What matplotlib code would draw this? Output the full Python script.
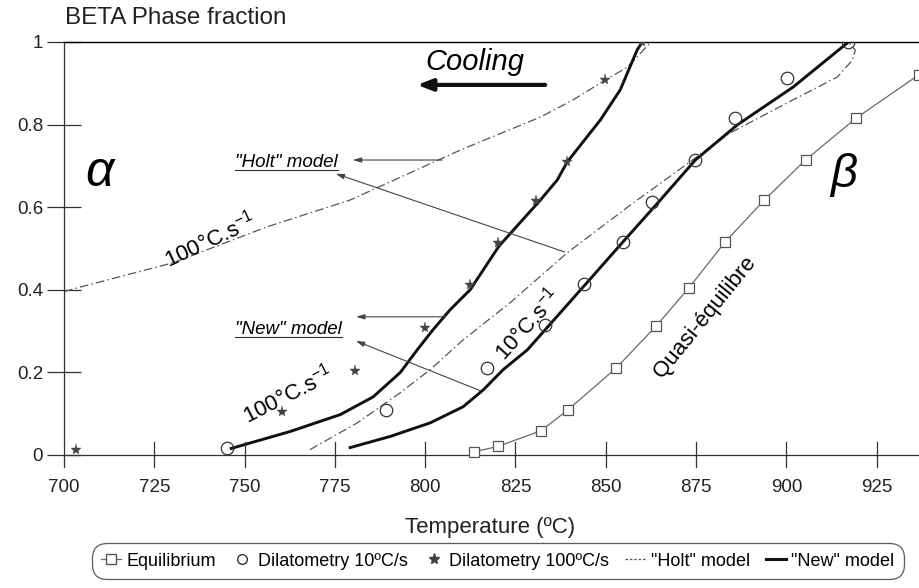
import matplotlib
matplotlib.use("Agg")
import matplotlib.pyplot as plt
from matplotlib.lines import Line2D

plt.rcParams['font.family'] = ['Liberation Sans', 'DejaVu Sans']
plt.rcParams['mathtext.fontset'] = 'custom'
plt.rcParams['mathtext.rm'] = 'Liberation Sans'
plt.rcParams['mathtext.it'] = 'Liberation Sans:italic'

# ---------------- data ----------------
eq_T = [813.6, 820.2, 832.1, 839.6, 852.9, 864.0, 873.1, 883.1, 893.9, 905.3, 919.4, 936.6]
eq_v = [0.007, 0.020, 0.058, 0.109, 0.210, 0.312, 0.405, 0.516, 0.617, 0.714, 0.816, 0.920]

dil10_T = [745.2, 789.2, 817.2, 833.2, 844.0, 854.8, 862.9, 874.8, 885.9, 900.3, 917.2]
dil10_v = [0.015, 0.107, 0.211, 0.315, 0.414, 0.516, 0.613, 0.714, 0.816, 0.913, 1.000]

dil100_T = [703.3, 760.4, 780.6, 800.0, 812.5, 820.2, 830.7, 839.3, 849.9, 860.1]
dil100_v = [0.012, 0.104, 0.203, 0.308, 0.412, 0.513, 0.615, 0.709, 0.908, 1.000]

new100_T = [746.3, 762.6, 776.5, 785.6, 793.1, 797.8, 802.2, 806.9, 812.5, 820.4,
            831.9, 836.6, 839.3, 848.5, 854.0, 858.7, 860.1]
new100_v = [0.015, 0.056, 0.097, 0.140, 0.199, 0.254, 0.303, 0.351, 0.400, 0.505,
            0.617, 0.666, 0.709, 0.811, 0.884, 0.981, 1.000]

holt100_T = [700.0, 703.6, 730.2, 756.2, 779.2, 809.7, 831.9, 841.0, 849.9, 856.0, 862.3]
holt100_v = [0.395, 0.404, 0.465, 0.552, 0.617, 0.738, 0.818, 0.860, 0.908, 0.939, 0.998]

new10_T = [779.2, 790.3, 801.4, 810.5, 816.1, 821.6, 828.3, 843.8, 854.8, 865.1, 874.8,
           886.4, 901.9, 917.2]
new10_v = [0.017, 0.044, 0.077, 0.116, 0.157, 0.206, 0.254, 0.407, 0.516, 0.617, 0.714,
           0.799, 0.891, 1.000]

holt10_T = [768.1, 781.2, 793.1, 801.4, 810.5, 823.5, 839.3, 857.6, 875.3, 884.5, 901.9,
            914.1, 918.3, 919.1, 917.2]
holt10_v = [0.012, 0.077, 0.150, 0.206, 0.278, 0.368, 0.489, 0.610, 0.722, 0.780, 0.860,
            0.915, 0.956, 0.980, 1.000]

x_ticks = [700, 725, 750, 775, 800, 825, 850, 875, 900, 925]
y_ticks = [0, 0.2, 0.4, 0.6, 0.8, 1]
y_ticklabels = ['0', '0.2', '0.4', '0.6', '0.8', '1']
legend_labels = ['Equilibrium', 'Dilatometry 10\u00baC/s', 'Dilatometry 100\u00baC/s',
                 '"Holt" model', '"New" model']

# ---------------- figure ----------------
fig = plt.figure(figsize=(9.2, 5.88), dpi=100)
ax = fig.add_axes([64/920, 1 - 467/588, 1 - 64/920, (467 - 42)/588])
ax.set_xlim(700, 937)
ax.set_ylim(-0.03, 1.0)

holt_style = dict(color='#555555', lw=0.9, dashes=(7, 2.5, 1.2, 2.5))
ax.plot(eq_T, eq_v, '-', color='#6a6a6a', lw=0.9, marker='s', ms=7.5,
        mfc='white', mec='#555555', mew=0.9, zorder=3)
ax.plot(holt100_T, holt100_v, **holt_style)
ax.plot(holt10_T, holt10_v, **holt_style)
ax.plot(new100_T, new100_v, '-', color='#111111', lw=2.1)
ax.plot(new10_T, new10_v, '-', color='#111111', lw=2.1)
ax.plot(dil10_T, dil10_v, 'o', ms=9, mfc='none', mec='#333333', mew=0.9, zorder=4)
ax.plot(dil100_T, dil100_v, '*', ms=8, mfc='#444444', mec='#444444', mew=0.3, zorder=4)

# spines / ticks
for s in ['right', 'bottom']:
    ax.spines[s].set_visible(False)
ax.spines['top'].set_linewidth(1.0)
ax.spines['left'].set_linewidth(0.9)
ax.spines['left'].set_color('#333333')
ax.axhline(0, color='#333333', lw=0.9, zorder=1)
ax.set_xticks(x_ticks)
ax.set_yticks(y_ticks)
ax.set_yticklabels(y_ticklabels)
ax.tick_params(axis='y', direction='inout', length=24, width=0.9, color='#333333',
               labelsize=13.5, pad=3, colors='#222222')
ax.tick_params(axis='x', bottom=False, labelbottom=False)
for t in x_ticks[1:]:
    ax.plot([t, t], [-0.03, 0.03], color='#333333', lw=0.9, clip_on=False)
for t in x_ticks:
    ax.text(t, -0.08, str(t), ha='center', va='center', fontsize=13.5, color='#222222')

ax.text(818, -0.177, 'Temperature (\u00baC)', ha='center', va='center', fontsize=16,
        color='#222222')

fig.text(65/920, 1 - 18/588, 'BETA Phase fraction', ha='left', va='center',
         fontsize=17.5, color='#222222')

# annotations
ax.text(813.9, 0.952, 'Cooling', style='italic', fontsize=21, ha='center', va='center')
ax.annotate('', xy=(797.0, 0.896), xytext=(834.0, 0.896),
            arrowprops=dict(arrowstyle='-|>,head_length=0.9,head_width=0.35',
                            lw=3, color='#111111'))

arrow_kw = dict(arrowstyle='-|>,head_length=0.5,head_width=0.15', lw=0.8, color='#444444')
t_holt = ax.text(747.4, 0.707, '"Holt" model', style='italic', fontsize=13.5,
                 ha='left', va='center')
ax.annotate('', xy=(779.2, 0.714), xytext=(805.5, 0.714), arrowprops=arrow_kw)
ax.annotate('', xy=(774.5, 0.683), xytext=(839.3, 0.489), arrowprops=arrow_kw)

t_new = ax.text(747.4, 0.303, '"New" model', style='italic', fontsize=13.5,
                ha='left', va='center')
ax.annotate('', xy=(780.1, 0.334), xytext=(806.4, 0.334), arrowprops=arrow_kw)
ax.annotate('', xy=(780.1, 0.278), xytext=(815.8, 0.153), arrowprops=arrow_kw)

ax.text(710.2, 0.683, r'$\alpha$', fontsize=36, ha='center', va='center')
ax.text(915.8, 0.678, r'$\beta$', fontsize=34, ha='center', va='center')

lab = '100\u00b0C.s$^{\\mathregular{-1}}$'
ax.text(740.4, 0.52, lab, rotation=25, fontsize=16, ha='center', va='center')
ax.text(761.8, 0.145, lab, rotation=27, fontsize=16, ha='center', va='center')
ax.text(828.3, 0.315, '10\u00b0C.s$^{\\mathregular{-1}}$', rotation=48, fontsize=16,
        ha='center', va='center')
ax.text(877.6, 0.334, 'Quasi-\u00e9quilibre', rotation=51, fontsize=16,
        ha='center', va='center')

# underline italic labels
fig.canvas.draw()
inv = fig.transFigure.inverted()
for t in (t_holt, t_new):
    bb = t.get_window_extent()
    (x0, y0), (x1, _) = inv.transform([(bb.x0, bb.y0 + 1), (bb.x1, bb.y0 + 1)])
    fig.add_artist(Line2D([x0, x1], [y0, y0], transform=fig.transFigure,
                          color='#333333', lw=0.8))

# legend
handles = [
    Line2D([], [], color='#6a6a6a', lw=0.9, marker='s', ms=7, mfc='white', mec='#555555'),
    Line2D([], [], ls='none', marker='o', ms=7, mfc='none', mec='#333333'),
    Line2D([], [], ls='none', marker='*', ms=8, mfc='#444444', mec='#444444'),
    Line2D([], [], color='#555555', lw=0.9, ls=(0, (2, 1.5))),
    Line2D([], [], color='#111111', lw=2.2),
]
leg = fig.legend(handles, legend_labels, loc='center', bbox_to_anchor=(498/920, 1 - 561/588),
                 ncol=5, fontsize=13, frameon=True, fancybox=True, edgecolor='#333333',
                 handlelength=1.1, handletextpad=0.3, columnspacing=0.9,
                 borderpad=0.3, borderaxespad=0)
leg.get_frame().set_linewidth(0.9)
leg.get_frame().set_boxstyle('round,pad=0.2,rounding_size=0.8')

fig.savefig('out.png', dpi=100)
